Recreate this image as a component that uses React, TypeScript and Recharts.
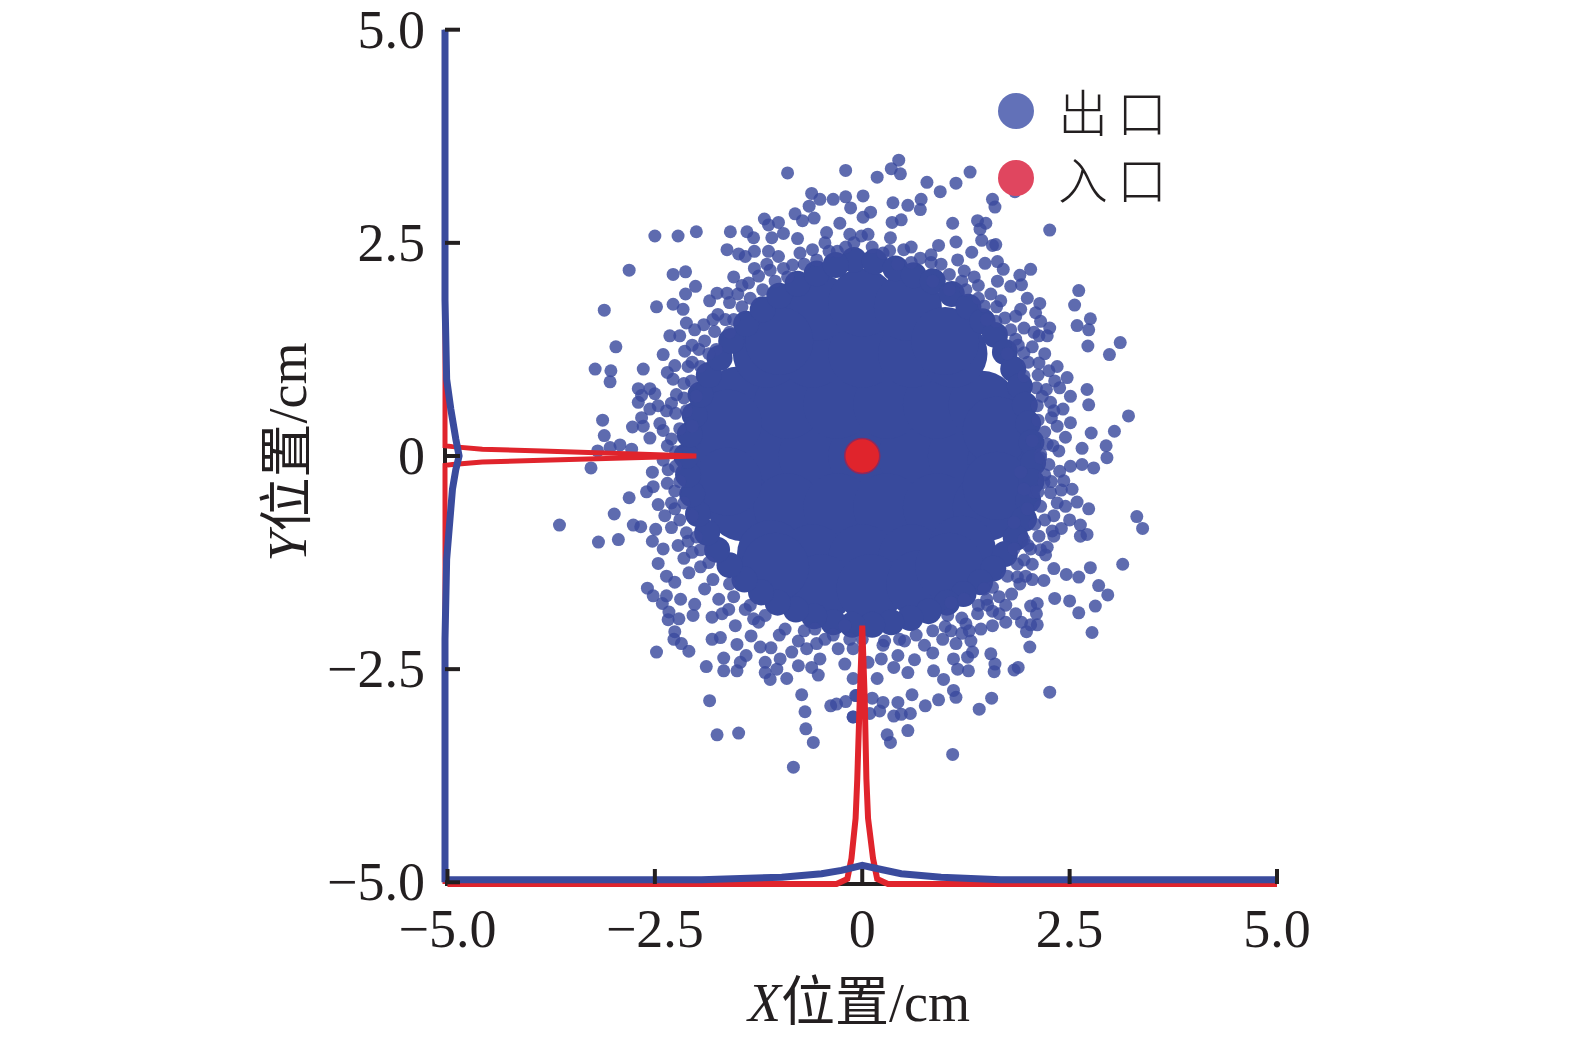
import { ScatterChart, Scatter, XAxis, YAxis, ZAxis, Legend, Label } from 'recharts';

type Pair = [number, number];

const xTicks = [-5, -2.5, 0, 2.5, 5];
const yTicks = [-5, -2.5, 0, 2.5, 5];
const tickLabels: Record<string, string> = { '-5': '−5.0', '-2.5': '−2.5', '0': '0', '2.5': '2.5', '5': '5.0' };
const legendNames = ['出口', '入口'];

// solid middle of the cloud, drawn with wide dots
const corePoints: Pair[] = [
  [-1.7, 0.1], [-1.2, 0], [-0.6, 0], [0, 0], [0.6, 0], [1.2, 0], [1.68, -0.05],
  [-1.5, 0.65], [-0.9, 0.6], [-0.3, 0.6], [0.3, 0.6], [0.9, 0.6], [1.45, 0.6],
  [-1.45, -0.6], [-0.9, -0.6], [-0.3, -0.6], [0.3, -0.6], [0.9, -0.6], [1.5, -0.6],
  [-1.15, 1.2], [-0.6, 1.2], [0, 1.2], [0.6, 1.2], [1.1, 1.2],
  [-1.1, -1.15], [-0.6, -1.2], [0, -1.2], [0.6, -1.2], [1.2, -1.1],
  [-0.55, 1.75], [0, 1.8], [0.55, 1.75], [-0.5, -1.55], [0.1, -1.55], [0.7, -1.5],
  [1.0, 1.35], [-1.0, 1.35], [-1.05, -1.3], [1.05, -1.3], [1.62, 0.3], [-1.62, 0.38], [-1.62, -0.3], [1.62, -0.35],
];

// thick band round the solid middle
const bandPoints: Pair[] = [
  [-0.1, 2.3], [0.15, 2.28], [0.4, 2.2], [0.62, 2.12], [0.85, 2.05], [1.08, 1.9], [1.28, 1.75], [1.45, 1.58],
  [1.6, 1.42], [1.72, 1.22], [1.82, 1.02], [1.9, 0.82], [1.96, 0.6], [2.0, 0.38], [2.04, 0.16], [2.06, -0.08],
  [2.04, -0.3], [2.0, -0.52], [1.95, -0.74], [1.85, -0.96], [1.72, -1.15], [1.58, -1.32], [1.42, -1.48], [1.22, -1.62],
  [1.02, -1.72], [0.8, -1.82], [0.58, -1.9], [0.35, -1.95], [0.12, -1.98], [-0.12, -1.98], [-0.35, -1.95], [-0.58, -1.88],
  [-0.8, -1.8], [-1.02, -1.72], [-1.22, -1.6], [-1.42, -1.45], [-1.6, -1.28], [-1.75, -1.1], [-1.87, -0.9], [-1.98, -0.68],
  [-2.05, -0.45], [-2.1, -0.22], [-2.12, 0], [-2.08, 0.25], [-2.02, 0.48], [-1.95, 0.72], [-1.85, 0.95], [-1.72, 1.15],
  [-1.58, 1.35], [-1.4, 1.55], [-1.2, 1.72], [-1.0, 1.88], [-0.78, 2.02], [-0.55, 2.14], [-0.32, 2.24],
];

const upperLeftPoints: Pair[] = [
  [-0.9, 3.32], [-0.2, 3.35], [-0.61, 3.08], [-0.51, 3.01], [-0.35, 3.01], [-0.2, 3.04], [-0.14, 2.91], [-0.64, 2.93],
  [-0.81, 2.84], [-0.72, 2.76], [-0.58, 2.79], [-0.27, 2.73], [-1.18, 2.78], [-1.13, 2.71], [-1.01, 2.74], [-0.95, 2.61],
  [-1.09, 2.56], [-0.78, 2.55], [-0.43, 2.62], [-1.59, 2.63], [-1.39, 2.63], [-1.31, 2.56], [-2.0, 2.63], [-2.22, 2.58],
  [-2.5, 2.58], [-1.63, 2.42], [-1.49, 2.37], [-1.41, 2.34], [-1.3, 2.4], [-1.13, 2.4], [-1.01, 2.34], [-0.84, 2.24],
  [-2.81, 2.18], [-2.28, 2.13], [-2.13, 2.16], [-2.01, 1.99], [-1.11, 2.18], [-1.25, 2.11], [-1.37, 2.03], [-3.11, 1.71],
  [-2.48, 1.75], [-2.28, 1.78], [-2.13, 1.9], [-2.16, 1.72], [-1.84, 1.82], [-1.75, 1.91], [-1.63, 1.91], [-1.74, 1.66],
  [-2.97, 1.28], [-2.4, 1.19], [-3.22, 1.02], [-3.03, 1.0], [-3.04, 0.87], [-2.64, 1.02], [-2.7, 0.79], [-2.56, 0.79],
  [-2.5, 0.73], [-2.66, 0.71], [-2.7, 0.63], [-3.13, 0.42], [-3.11, 0.24], [-2.77, 0.34], [-2.66, 0.45], [-2.64, 0.35],
  [-2.44, 0.38], [-2.56, 0.55], [-2.46, 0.59], [-2.36, 0.53], [-2.56, 0.21], [-2.92, 0.13], [-3.04, 0.1], [-3.19, 0.06],
  [-2.78, 0.08], [-2.32, 1.41], [-2.2, 1.41], [-2.12, 1.56], [-2.02, 1.48], [-1.91, 1.54], [-1.9, 1.35], [-1.78, 1.46],
  [-1.76, 1.25], [-2.14, 1.23], [-1.97, 1.25], [-2.26, 1.06], [-2.28, 0.9], [-2.06, 0.88], [-2.24, 0.72], [-2.12, 0.53],
  [-1.5, 1.9], [-1.45, 1.75], [-1.55, 1.6], [-1.6, 1.45], [-1.35, 1.85], [-1.2, 1.95], [-1.05, 2.05], [-0.9, 2.1],
  [-0.7, 2.25], [-0.55, 2.3], [-0.4, 2.4], [-0.2, 2.45], [-2.1, 1.05], [-2.0, 0.7], [-2.05, 0.35], [-2.3, 0.2],
  [-2.25, 0.05], [-2.35, 0.12], [-2.4, 0.3], [-2.2, 0.32], [-2.25, 0.5], [-2.15, 0.68], [-2.3, 0.62], [-2.15, 0.85],
  [-2.35, 0.98], [-2.05, 1.1], [-1.95, 1.05], [-2.05, 1.3], [-1.85, 1.2], [-1.65, 1.6], [-1.8, 1.6], [-1.6, 1.8],
  [-1.45, 2.0], [-1.55, 2.1], [-1.3, 2.2], [-1.15, 2.25], [-0.95, 2.2], [-0.75, 2.38], [-0.6, 2.42], [-0.45, 2.5],
  [-0.3, 2.4], [-0.15, 2.6],
];

const upperRightPoints: Pair[] = [
  [0.44, 3.47], [0.35, 3.37], [0.46, 3.31], [0.18, 3.27], [0.78, 3.21], [0.94, 3.1], [1.13, 3.2], [1.3, 3.33],
  [0.01, 3.05], [0.37, 2.97], [0.55, 2.94], [0.71, 3.01], [0.7, 2.89], [1.57, 3.01], [1.6, 2.92], [1.84, 3.1],
  [2.26, 2.65], [0.1, 2.86], [0.01, 2.8], [0.36, 2.74], [0.47, 2.77], [1.09, 2.73], [1.39, 2.76], [1.49, 2.73],
  [1.42, 2.66], [1.44, 2.53], [1.57, 2.47], [1.61, 2.48], [1.13, 2.51], [1.32, 2.39], [0.92, 2.47], [0.59, 2.45],
  [0.34, 2.56], [0.07, 2.6], [-0.01, 2.58], [0.33, 2.41], [0.83, 2.36], [1.48, 2.26], [1.63, 2.28], [1.7, 2.19],
  [2.03, 2.19], [1.9, 2.12], [1.63, 2.05], [1.79, 1.99], [1.92, 2.01], [1.99, 1.85], [2.14, 1.79], [1.67, 1.82],
  [1.23, 2.17], [1.05, 2.13], [0.43, 2.25], [0.59, 2.27], [0.83, 2.27], [2.61, 1.94], [2.56, 1.77], [2.75, 1.61],
  [2.59, 1.53], [2.73, 1.48], [2.72, 1.29], [3.11, 1.33], [2.98, 1.19], [2.13, 1.41], [2.26, 1.5], [2.23, 1.41],
  [2.07, 1.45], [2.15, 1.58], [1.85, 1.64], [1.91, 1.72], [2.09, 1.68], [1.79, 1.48], [1.85, 1.37], [1.61, 1.58],
  [1.47, 1.76], [2.35, 1.05], [2.47, 0.92], [2.13, 1.09], [1.95, 1.21], [2.32, 0.88], [2.71, 0.78], [2.51, 0.7],
  [2.73, 0.6], [2.17, 0.7], [3.21, 0.47], [3.04, 0.29], [2.76, 0.27], [2.51, 0.39], [2.35, 0.35], [2.31, 0.53],
  [2.65, 0.09], [2.94, 0.12], [2.95, -0.02], [2.37, 0.06], [2.23, 0.14], [2.05, 0.18], [2.15, 0.02], [1.95, 0.94],
  [2.11, 0.59], [2.27, 0.63], [1.4, 2.0], [1.25, 1.95], [1.05, 1.95], [0.85, 2.05], [1.5, 1.6], [1.75, 1.2],
  [-0.1, 2.5], [0.12, 2.45], [0.25, 2.38], [0.5, 2.42], [0.7, 2.32], [0.95, 2.25], [1.15, 2.3], [1.35, 2.1],
  [1.2, 2.05], [1.55, 1.9], [1.4, 1.85], [1.72, 1.62], [1.62, 1.75], [1.95, 1.5], [1.88, 1.3], [2.05, 1.28],
  [2.0, 1.1], [2.2, 1.2], [2.12, 0.95], [2.25, 1.0], [2.1, 0.8], [2.22, 0.78], [2.38, 0.8], [2.12, 0.42],
  [2.28, 0.45], [2.42, 0.55], [2.2, 0.28], [2.45, 0.22], [2.3, 0.12],
];

const lowerLeftPoints: Pair[] = [
  [-3.27, -0.14], [-3.65, -0.81], [-2.81, -0.49], [-2.99, -0.68], [-3.18, -1.01], [-2.94, -0.98], [-2.76, -0.81], [-2.67, -0.83],
  [-2.53, -0.19], [-2.34, -0.16], [-2.6, -0.42], [-2.52, -0.36], [-2.26, -0.41], [-2.46, -0.57], [-2.26, -0.62], [-2.38, -0.7],
  [-2.49, -0.86], [-2.53, -1.0], [-2.3, -0.84], [-2.4, -1.09], [-2.22, -1.05], [-2.46, -1.26], [-2.36, -1.41], [-2.26, -1.48],
  [-2.59, -1.55], [-2.52, -1.64], [-2.36, -1.64], [-2.41, -1.73], [-2.19, -1.68], [-2.02, -1.74], [-2.04, -1.87], [-2.33, -1.83],
  [-2.34, -1.92], [-2.21, -1.91], [-1.81, -1.89], [-1.69, -1.85], [-2.26, -2.06], [-2.27, -2.15], [-2.18, -2.2], [-2.09, -2.29],
  [-2.48, -2.3], [-1.81, -2.15], [-1.71, -2.13], [-1.88, -2.47], [-1.67, -2.37], [-1.67, -2.52], [-1.51, -2.21], [-1.4, -2.34],
  [-1.47, -2.42], [-1.51, -2.52], [-1.53, -1.99], [-1.31, -1.91], [-1.34, -2.11], [-1.23, -2.24], [-1.17, -2.42], [-0.99, -2.38],
  [-1.03, -2.5], [-1.17, -2.54], [-1.11, -2.62], [-0.91, -2.61], [-0.77, -2.46], [-0.61, -2.48], [-0.51, -2.38], [-0.53, -2.57],
  [-0.67, -2.26], [-0.21, -2.44], [-0.11, -2.61], [-0.73, -2.8], [-0.69, -3.0], [-0.68, -3.2], [-0.59, -3.36], [-1.84, -2.87],
  [-1.75, -3.27], [-1.49, -3.25], [-0.83, -3.65], [-0.38, -2.93], [-0.31, -2.91], [-0.2, -2.88], [-0.11, -3.06], [-0.07, -2.81],
  [-1.61, -1.8], [-1.9, -1.56], [-2.09, -1.37], [-2.05, -1.13], [-1.73, -1.68], [-1.41, -1.8], [-1.17, -1.87], [-0.93, -2.03],
  [-0.77, -2.17], [-0.57, -2.03], [-0.45, -2.15], [-0.29, -2.26], [-0.21, -1.99], [-2.05, -0.7], [-2.0, -0.95], [-1.85, -1.25],
  [0.0, -2.15], [-0.15, -2.15], [-0.35, -2.1], [-0.55, -2.2], [-0.7, -2.05], [-0.85, -2.3], [-1.0, -2.1], [-1.1, -2.25],
  [-1.25, -1.95], [-1.35, -1.75], [-1.55, -1.65], [-1.6, -1.5], [-1.8, -1.45], [-1.95, -1.3], [-1.95, -1.1], [-2.15, -1.2],
  [-2.12, -0.9], [-2.1, -1.0], [-2.2, -0.75], [-2.15, -0.55], [-2.3, -0.55], [-2.2, -0.3], [-2.35, -0.32], [-2.25, -0.12],
  [-2.4, -0.05],
];

const lowerRightPoints: Pair[] = [
  [2.79, -0.14], [2.65, -0.1], [2.51, -0.12], [2.43, -0.29], [2.53, -0.39], [2.59, -0.54], [2.45, -0.59], [2.73, -0.62],
  [3.31, -0.71], [3.38, -0.85], [2.5, -0.75], [2.63, -0.81], [2.63, -0.94], [2.71, -0.92], [2.29, -0.88], [2.31, -0.94],
  [2.31, -0.7], [2.13, -0.94], [2.23, -1.07], [2.21, -1.16], [2.05, -1.27], [3.14, -1.27], [2.75, -1.31], [2.31, -1.32],
  [2.46, -1.39], [2.61, -1.42], [2.19, -1.46], [2.85, -1.52], [2.96, -1.63], [2.81, -1.76], [2.61, -1.84], [2.32, -1.67],
  [2.5, -1.7], [2.11, -1.73], [2.03, -1.76], [2.1, -1.85], [1.73, -1.75], [1.73, -1.95], [2.11, -1.98], [2.03, -1.98],
  [1.98, -2.06], [2.77, -2.07], [2.02, -2.24], [1.55, -2.32], [1.6, -2.44], [1.59, -2.53], [1.88, -2.48], [1.83, -2.51],
  [2.26, -2.77], [1.56, -2.84], [1.41, -2.97], [1.09, -3.5], [0.55, -3.22], [0.3, -3.27], [0.34, -3.36], [1.13, -2.83],
  [1.1, -2.75], [0.92, -2.86], [0.76, -2.93], [0.6, -2.8], [0.58, -3.02], [0.47, -3.03], [0.38, -3.05], [0.43, -2.89],
  [0.25, -2.89], [0.12, -2.84], [0.21, -2.99], [-0.08, -2.81], [-0.11, -3.06], [0.09, -3.02], [0.98, -2.62], [0.86, -2.52],
  [1.15, -2.5], [1.28, -2.52], [1.1, -2.38], [1.27, -2.36], [1.33, -2.3], [0.55, -2.54], [0.18, -2.61], [0.38, -2.48],
  [0.63, -2.39], [0.85, -2.31], [1.13, -2.2], [1.31, -2.17], [1.29, -2.05], [1.43, -2.03], [1.57, -1.99], [1.25, -1.97],
  [1.39, -1.85], [1.51, -1.75], [1.57, -1.82], [0.97, -2.15], [1.07, -2.05], [0.75, -2.22], [0.43, -2.34], [0.23, -2.38],
  [0.07, -2.42], [-0.11, -2.26], [0.51, -2.17], [0.27, -2.17], [1.75, -1.41], [1.87, -1.42], [1.97, -1.41], [1.57, -1.54],
  [1.47, -1.56], [1.23, -1.68], [1.07, -1.72], [1.03, -1.87], [1.83, -0.78], [1.95, -0.98], [2.03, -1.09], [1.83, -1.09],
  [1.87, -1.27], [2.07, -0.42], [2.19, -0.31], [2.27, -0.43], [2.35, -0.55], [2.15, -0.59], [1.95, -0.39], [1.91, -0.19],
  [2.15, -0.02], [1.99, -0.62], [2.25, -0.1], [2.38, -0.18], [2.2, -0.22], [2.4, -0.4], [2.28, -0.3], [2.12, -0.42],
  [2.2, -0.75], [2.08, -0.8], [2.4, -0.85], [2.15, -1.1], [2.0, -1.05], [2.05, -1.45], [1.9, -1.5], [1.95, -1.22],
  [1.8, -1.62], [1.65, -1.65], [1.5, -1.68], [1.4, -1.75], [1.2, -1.9], [1.0, -2.0], [0.85, -2.05], [0.65, -2.1],
  [0.45, -2.15], [0.25, -2.22], [1.2, -2.08], [1.65, -1.85], [1.85, -1.85], [1.92, -1.95],
];

const inletCenter: Pair[] = [[0, 0]];

// marginal curves
const inletLeftX = [-5.03, -5.03, -4.94, -4.58, -3.86, -2.0, -3.86, -4.58, -4.94, -5.03, -5.03];
const inletLeftY = [1.9, 0.12, 0.11, 0.08, 0.06, 0, -0.05, -0.07, -0.1, -0.11, -5.02];
const inletBottomX = [-5, -0.31, -0.18, -0.13, -0.08, -0.06, -0.03, 0, 0.03, 0.05, 0.07, 0.13, 0.18, 0.31, 5];
const inletBottomY = [-5.02, -5.02, -4.96, -4.72, -4.25, -3.79, -2.85, -1.99, -2.85, -3.79, -4.25, -4.72, -4.96, -5.02, -5.02];
const outletLeftX = [-5.03, -5.03, -5.01, -4.96, -4.9, -4.86, -4.9, -4.94, -4.97, -5.01, -5.03, -5.03];
const outletLeftY = [5, 1.83, 0.9, 0.55, 0.2, 0, -0.16, -0.39, -0.74, -1.21, -2.15, -5];
const outletBottomX = [-5, -1.94, -0.97, -0.49, -0.25, 0, 0.23, 0.47, 0.95, 1.67, 5];
const outletBottomY = [-4.97, -4.97, -4.94, -4.9, -4.86, -4.8, -4.85, -4.9, -4.94, -4.97, -4.97];

const toRows = (pairs: Pair[]) => pairs.map(([x, y]) => ({ x, y }));
const zipRows = (xs: number[], ys: number[]) => xs.map((x, i) => ({ x, y: ys[i] }));

const outletRows = toRows([...upperLeftPoints, ...upperRightPoints, ...lowerLeftPoints, ...lowerRightPoints]);

const BLUE = '#3a4b9d';
const RED = '#e0242c';
const INK = '#231f20';
const SERIF = '"Liberation Serif", "Noto Sans CJK SC", serif';
const legendColors: Record<string, string> = { 出口: '#6271b8', 入口: '#e0465f' };

const XTick = ({ x, y, payload }: any) => (
  <g>
    <line x1={x} x2={x} y1={y} y2={y - 15} stroke={INK} strokeWidth={4} />
    <text x={x} y={y + 63} textAnchor="middle" fontSize={54} fontFamily={SERIF} fill={INK}>
      {tickLabels[String(payload.value)]}
    </text>
  </g>
);

const YTick = ({ x, y, payload }: any) => (
  <g>
    <line x1={x} x2={x + 15} y1={y} y2={y} stroke={INK} strokeWidth={4} />
    <text x={x - 20} y={y + 18} textAnchor="end" fontSize={54} fontFamily={SERIF} fill={INK}>
      {tickLabels[String(payload.value)]}
    </text>
  </g>
);

const bigDot = (p: any) => <circle cx={p.cx} cy={p.cy} r={34} fill="#384a9c" />;
const bandDot = (p: any) => <circle cx={p.cx} cy={p.cy} r={13} fill="#384a9c" />;
const smallDot = (p: any) => <circle cx={p.cx} cy={p.cy} r={6.5} fill={BLUE} fillOpacity={0.82} />;
const inletDot = (p: any) => <circle cx={p.cx} cy={p.cy} r={17.5} fill={RED} stroke="#8c2a5e" strokeWidth={1.5} />;
const noDot = () => <g />;

const legendBox = () => (
  <div>
    {legendNames.map((name) => (
      <div key={name} style={{ display: 'flex', alignItems: 'center', height: 67 }}>
        <span style={{ width: 36, height: 36, borderRadius: '50%', background: legendColors[name] }} />
        <span style={{ marginLeft: 24, fontSize: 50, letterSpacing: 9, lineHeight: '67px', color: INK, fontFamily: '"Noto Sans CJK SC"', fontWeight: 300 }}>
          {name}
        </span>
      </div>
    ))}
  </div>
);

export default function App() {
  return (
    <div style={{ position: 'absolute', left: 0, top: 0, width: 1575, height: 1039, background: '#fff' }}>
      <ScatterChart width={1575} height={1039} margin={{ top: 29.7, right: 298, bottom: 55, left: 0 }}>
        <ZAxis range={[40, 40]} />
        <Legend
          content={legendBox}
          layout="horizontal"
          verticalAlign="middle"
          align="center"
          wrapperStyle={{ left: 998, top: 77, width: 200, zIndex: 0 }}
        />
        <Scatter name="core" data={toRows(corePoints)} shape={bigDot} legendType="none" isAnimationActive={false} />
        <Scatter name="band" data={toRows(bandPoints)} shape={bandDot} legendType="none" isAnimationActive={false} />
        <Scatter name="出口" data={outletRows} shape={smallDot} isAnimationActive={false} />
        <Scatter data={zipRows(inletLeftX, inletLeftY)} shape={noDot} line={{ stroke: RED, strokeWidth: 5 }} legendType="none" isAnimationActive={false} />
        <Scatter data={zipRows(inletBottomX, inletBottomY)} shape={noDot} line={{ stroke: RED, strokeWidth: 6 }} legendType="none" isAnimationActive={false} />
        <Scatter data={zipRows(outletLeftX, outletLeftY)} shape={noDot} line={{ stroke: BLUE, strokeWidth: 7 }} legendType="none" isAnimationActive={false} />
        <Scatter data={zipRows(outletBottomX, outletBottomY)} shape={noDot} line={{ stroke: BLUE, strokeWidth: 7 }} legendType="none" isAnimationActive={false} />
        <Scatter name="入口" data={toRows(inletCenter)} shape={inletDot} isAnimationActive={false} />
        <XAxis
          type="number"
          dataKey="x"
          domain={[-5, 5]}
          ticks={xTicks}
          interval={0}
          height={100}
          tickSize={0}
          tickMargin={0}
          tickLine={false}
          tick={XTick}
          axisLine={{ stroke: INK, strokeWidth: 4 }}
        >
          <Label
            content={() => (
              <text x={859} y={1021} textAnchor="middle" fontSize={54} fontFamily={SERIF} fill={INK}>
                <tspan fontStyle="italic">X</tspan>
                <tspan>位置</tspan>
                <tspan>/cm</tspan>
              </text>
            )}
          />
        </XAxis>
        <YAxis
          type="number"
          dataKey="y"
          domain={[-5, 5]}
          ticks={yTicks}
          interval={0}
          width={445}
          tickSize={0}
          tickMargin={0}
          tickLine={false}
          tick={YTick}
          axisLine={{ stroke: INK, strokeWidth: 4 }}
        >
          <Label
            content={() => (
              <text x={306} y={452} transform="rotate(-90 306 452)" textAnchor="middle" fontSize={54} fontFamily={SERIF} fill={INK}>
                <tspan fontStyle="italic">Y</tspan>
                <tspan>位置</tspan>
                <tspan>/cm</tspan>
              </text>
            )}
          />
        </YAxis>
      </ScatterChart>
    </div>
  );
}
